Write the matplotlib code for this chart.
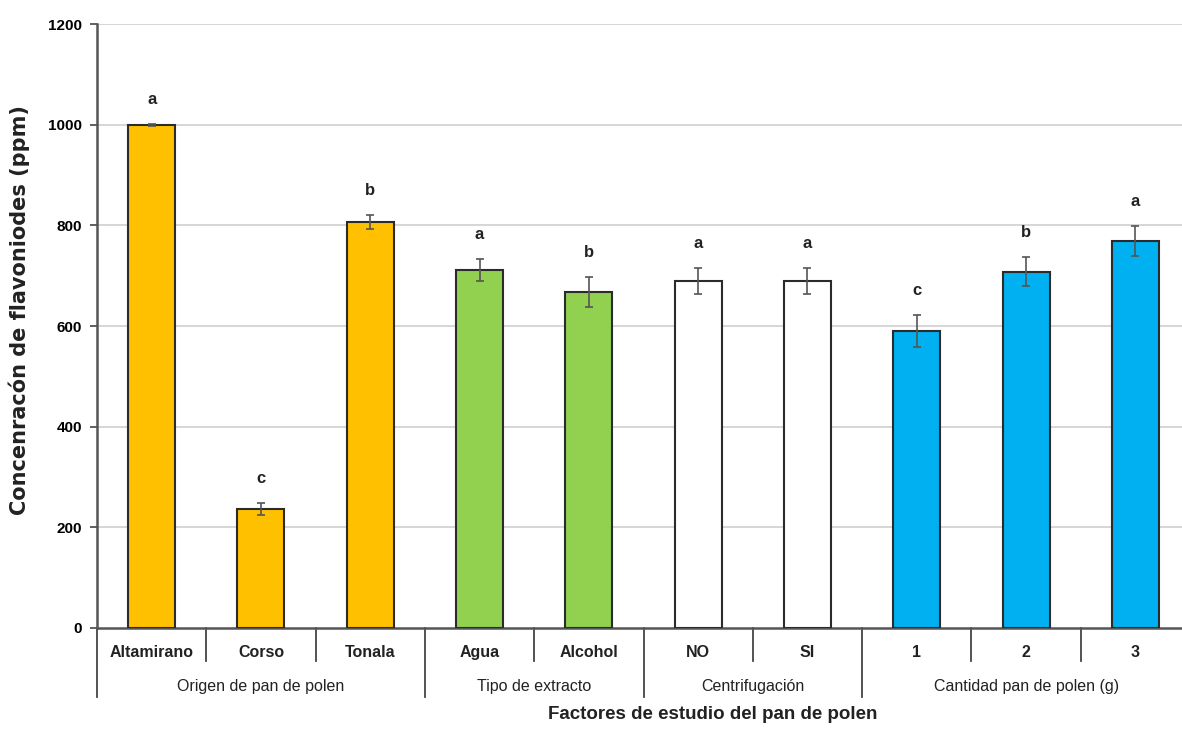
import numpy as np
import matplotlib.pyplot as plt
from matplotlib.transforms import blended_transform_factory

plt.rcParams['font.family'] = ['Liberation Sans Narrow', 'Liberation Sans', 'DejaVu Sans']

categorias = ['Altamirano', 'Corso', 'Tonala', 'Agua', 'Alcohol', 'NO', 'SI', '1', '2', '3']
valores = [1000, 237, 806, 711, 668, 690, 690, 590, 708, 769]
errores = [2, 12, 14, 22, 30, 26, 26, 32, 29, 30]
letras = ['a', 'c', 'b', 'a', 'b', 'a', 'a', 'c', 'b', 'a']
grupos = ['Origen de pan de polen', 'Tipo de extracto', 'Centrifugación', 'Cantidad pan de polen (g)']
tam_grupos = [3, 2, 2, 3]
colores_grupo = ['#FFC000', '#92D050', '#FFFFFF', '#00B0F0']

colores = []
for c, n in zip(colores_grupo, tam_grupos):
    colores += [c] * n

fig = plt.figure(figsize=(11.82, 7.51), dpi=100)
ax = fig.add_axes([0.0821, 0.1638, 0.9247, 0.8042])

x = np.arange(len(categorias)) + 0.5
ax.bar(x, valores, width=0.43, color=colores, edgecolor='#2b2b2b', linewidth=1.5, zorder=3)
ax.errorbar(x, valores, yerr=errores, fmt='none', ecolor='#555555', elinewidth=1.2,
            capsize=3, capthick=1.2, zorder=4)

for xi, v, e, l in zip(x, valores, errores, letras):
    ax.text(xi, v + e + 34, l, ha='center', va='bottom', fontsize=12, fontweight='bold', color='#222222')

ax.set_xlim(0, len(categorias))
ax.set_ylim(0, 1200)
ax.set_yticks(np.arange(0, 1201, 200))
ax.tick_params(axis='y', labelsize=11, length=5, width=1.2, color='#444444', pad=6)
for lab in ax.get_yticklabels():
    lab.set_fontweight('bold')
ax.set_xticks([])
ax.yaxis.grid(True, color='#d0d0d0', linewidth=1.2, zorder=0)
for y in ax.get_ygridlines()[:1]:
    y.set_visible(False)

for s in ['top', 'right']:
    ax.spines[s].set_visible(False)
ax.spines['left'].set_color('#555555')
ax.spines['left'].set_linewidth(1.8)
ax.spines['bottom'].set_color('#555555')
ax.spines['bottom'].set_linewidth(1.8)

# hierarchical x-axis: category labels, group labels and separators
tr = blended_transform_factory(ax.transData, ax.transAxes)
for xi, c in zip(x, categorias):
    ax.text(xi, -0.04, c, transform=tr, ha='center', va='center', fontsize=11.5, fontweight='bold', color='#222222')

bordes = np.concatenate([[0], np.cumsum(tam_grupos)])
for i in range(len(categorias) + 1):
    largo = -0.115 if i in bordes else -0.055
    ax.plot([i, i], [0, largo], transform=tr, color='#444444', linewidth=1.3, clip_on=False)

for g, a, b in zip(grupos, bordes[:-1], bordes[1:]):
    ax.text((a + b) / 2, -0.097, g, transform=tr, ha='center', va='center', fontsize=11.5, color='#222222')

ax.set_ylabel('Concenracón de flavoniodes (ppm)', fontsize=15, fontweight='bold',
              family=['DejaVu Sans'], color='#222222')
ax.yaxis.set_label_coords(-0.061, 0.526)
fig.text(0.603, 0.048, 'Factores de estudio del pan de polen', ha='center', va='center',
         fontsize=13.5, fontweight='bold', color='#222222')

fig.savefig('out.png', dpi=100)
